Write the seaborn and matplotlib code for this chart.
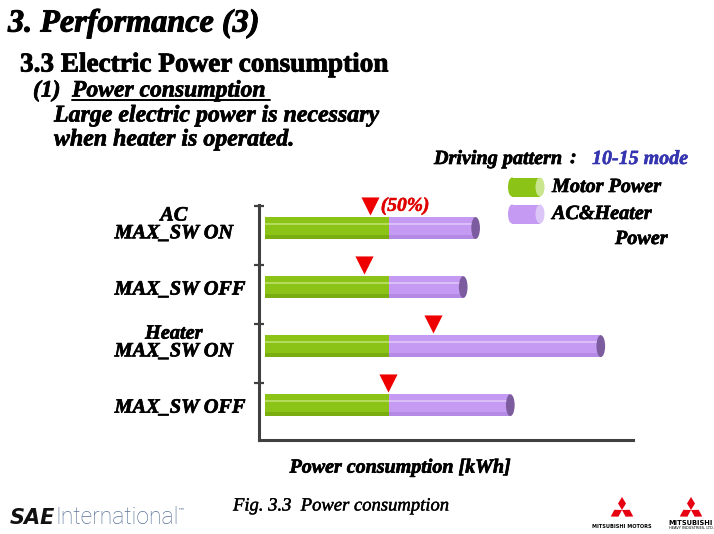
import numpy as np
import pandas as pd
import matplotlib
matplotlib.use("Agg")
import matplotlib.pyplot as plt
from matplotlib import font_manager as fm
from matplotlib import patheffects as pe
from matplotlib import transforms as mtrans
from matplotlib.patches import Ellipse, Rectangle, Polygon
import seaborn as sns

# ---------------- data ----------------
categories = ["AC MAX_SW ON", "AC MAX_SW OFF", "Heater MAX_SW ON", "Heater MAX_SW OFF"]
tick_labels = ["AC\nMAX_SW ON", "MAX_SW OFF", "Heater\nMAX_SW ON", "MAX_SW OFF"]
motor_power = [1.00, 1.00, 1.00, 1.00]
ac_heater_power = [0.70, 0.60, 1.71, 0.98]
series_names = ["Motor Power", "AC&Heater Power"]

GREEN = "#8CC317"
GREEN_LIGHT = "#B5DB5C"
GREEN_CAP = "#C9E68F"
PURPLE = "#C49AF2"
PURPLE_LIGHT = "#D9BEF8"
PURPLE_CAP = "#7C5C9E"
PURPLE_CAP_LEG = "#DCC6F8"

W, H = 714, 534
sns.set_theme(style="white")
plt.rcParams["font.family"] = ["Liberation Serif", "DejaVu Serif"]
plt.rcParams["text.color"] = "black"


def font_file(name):
    for f in fm.fontManager.ttflist:
        if f.fname.endswith(name):
            return f.fname
    return None


_bi = font_file("LiberationSerif-BoldItalic.ttf")
_b = font_file("LiberationSerif-Bold.ttf")
_i = font_file("LiberationSerif-Italic.ttf")


def FP(path, size, fallback_weight="bold", fallback_style="italic"):
    if path:
        return fm.FontProperties(fname=path, size=size)
    return fm.FontProperties(family="serif", weight=fallback_weight,
                             style=fallback_style, size=size)


def BI(size):
    return FP(_bi, size)


def heavy(color="black", lw=0.5):
    return [pe.withStroke(linewidth=lw, foreground=color)]


fig = plt.figure(figsize=(W / 100, H / 100), dpi=100)
fig.patch.set_facecolor("white")


def fx(x):
    return x / W


def fy(y):
    return 1 - y / H


# ---------------- axes ----------------
ax = fig.add_axes([fx(259), fy(440), fx(633) - fx(259), fy(205) - fy(440)])

df = pd.DataFrame({"category": categories,
                   "motor": motor_power,
                   "ac": ac_heater_power})
df["total"] = df["motor"] + df["ac"]

bar_h = 0.37
sns.barplot(data=df, x="total", y="category", orient="h", color=PURPLE,
            width=bar_h, saturation=1, ax=ax, linewidth=0)
sns.barplot(data=df, x="motor", y="category", orient="h", color=GREEN,
            width=bar_h, saturation=1, ax=ax, linewidth=0)

xmax = 2.97
ax.set_xlim(-0.048, xmax)
ax.set_ylim(3.59, -0.39)

for i, (m, t) in enumerate(zip(df["motor"], df["total"])):
    ax.add_patch(Rectangle((0, i - bar_h * 0.22), m, bar_h * 0.08,
                           facecolor=GREEN_LIGHT, edgecolor="none", zorder=3))
    ax.add_patch(Rectangle((m, i - bar_h * 0.22), t - m, bar_h * 0.08,
                           facecolor=PURPLE_LIGHT, edgecolor="none", zorder=3))
    ax.add_patch(Rectangle((0, i + bar_h * 0.32), m, bar_h * 0.18,
                           facecolor="#7AAE10", edgecolor="none", zorder=3))
    ax.add_patch(Rectangle((m, i + bar_h * 0.32), t - m, bar_h * 0.18,
                           facecolor="#B58AE4", edgecolor="none", zorder=3))
    ax.add_patch(Ellipse((t, i), 0.07, bar_h, facecolor=PURPLE_CAP,
                         edgecolor="none", zorder=4))
    ax.scatter([t / 2], [i - 0.37], marker="v", s=170, color="#EE0000",
               zorder=5, linewidths=0, clip_on=False)

ax.text(df["total"][0] / 2 + 0.085, -0.37, "(50%)", color="#E00000",
        fontproperties=BI(14), va="center", ha="left",
        path_effects=heavy("#E00000", 0.4))

for s in ["top", "right"]:
    ax.spines[s].set_visible(False)
for s in ["left", "bottom"]:
    ax.spines[s].set_color("#404040")
    ax.spines[s].set_linewidth(2.2)
ax.set_xticks([])
ax.set_yticks(range(len(categories)))
ax.set_yticklabels(tick_labels, ha="left", multialignment="center",
                   fontproperties=BI(14.6), linespacing=0.85)
ax.tick_params(axis="y", which="major", length=0, pad=104, labelcolor="black")
for lab, txt in zip(ax.get_yticklabels(), tick_labels):
    lab.set_path_effects(heavy())
    if "\n" in txt:
        lab.set_transform(lab.get_transform() +
                          mtrans.ScaledTranslation(0, 5 / 100, fig.dpi_scale_trans))
ax.set_yticks([-0.37, 0.63, 1.63, 2.63], minor=True)
ax.tick_params(axis="y", which="minor", direction="inout", length=7,
               width=1.6, color="#404040", left=True)
ax.set_ylabel("")
ax.set_xlabel("Power consumption [kWh]", fontproperties=BI(14.4),
              color="black", path_effects=heavy())
ax.xaxis.set_label_coords((400 - 259) / (633 - 259), -0.075)
ax.grid(False)

# ---------------- titles ----------------
fig.text(fx(8), fy(24), "3. Performance (3)", fontproperties=BI(23.2),
         va="center", ha="left", path_effects=heavy(lw=0.7))
fig.text(fx(20), fy(65), "3.3 Electric Power consumption",
         fontproperties=FP(_b, 19.6, fallback_style="normal"),
         va="center", ha="left", path_effects=heavy(lw=0.6))
fig.text(fx(33), fy(91), "(1)", fontproperties=BI(17), va="center", ha="left",
         path_effects=heavy())
fig.text(fx(72), fy(91), "Power consumption", fontproperties=BI(17),
         va="center", ha="left", path_effects=heavy())
fig.add_artist(plt.Line2D([fx(72), fx(270)], [fy(100), fy(100)], color="black",
                          linewidth=1.4))
fig.text(fx(54), fy(116), "Large electric power is necessary",
         fontproperties=BI(17.2), va="center", ha="left", path_effects=heavy())
fig.text(fx(54), fy(140), "when heater is operated.",
         fontproperties=BI(17.2), va="center", ha="left", path_effects=heavy())

fig.text(fx(434), fy(159), "Driving pattern", fontproperties=BI(14.5),
         va="center", ha="left", path_effects=heavy())
fig.text(fx(570), fy(158), ":", fontproperties=BI(14.5),
         va="center", ha="left", path_effects=heavy())
fig.text(fx(592), fy(159), "10-15 mode", fontproperties=BI(14.4),
         color="#3535B0", va="center", ha="left",
         path_effects=heavy("#3535B0", 0.4))


# ---------------- legend ----------------
def cyl(x0, x1, yc, h, face, cap):
    fig.add_artist(Rectangle((fx(x0), fy(yc + h / 2)), fx(x1) - fx(x0),
                             fy(yc - h / 2) - fy(yc + h / 2),
                             transform=fig.transFigure, facecolor=face,
                             edgecolor="none"))
    fig.add_artist(Ellipse((fx(x0), fy(yc)), fx(8), fy(0) - fy(h),
                           transform=fig.transFigure, facecolor=face,
                           edgecolor="none"))
    fig.add_artist(Ellipse((fx(x1), fy(yc)), fx(9), fy(0) - fy(h),
                           transform=fig.transFigure, facecolor=cap,
                           edgecolor="none"))


cyl(512, 540, 187, 19, GREEN, GREEN_CAP)
cyl(512, 540, 214, 19, PURPLE, PURPLE_CAP_LEG)
fig.text(fx(552), fy(187), series_names[0], fontproperties=BI(14.5),
         va="center", ha="left", path_effects=heavy())
fig.text(fx(552), fy(214), "AC&Heater", fontproperties=BI(14.5),
         va="center", ha="left", path_effects=heavy())
fig.text(fx(615), fy(239), "Power", fontproperties=BI(14.5),
         va="center", ha="left", path_effects=heavy())

# ---------------- footer ----------------
fig.text(fx(233), fy(506), "Fig. 3.3  Power consumption",
         fontproperties=FP(_i, 13.4, fallback_weight="normal"),
         va="center", ha="left", path_effects=heavy(lw=0.3))
fig.text(fx(10), fy(518), "SAE", fontsize=15, fontweight="heavy",
         fontstyle="italic", family="DejaVu Sans", va="center", ha="left",
         color="#111111")
fig.text(fx(55), fy(518), "International", fontsize=16.5, fontweight="light",
         family="Roboto", va="center", ha="left", color="#5A7398")
fig.text(fx(178), fy(510), "\u2122", fontsize=5, family="DejaVu Sans",
         color="#5A7398", va="center")


def mitsu(cx, cy, L, Wd):
    for ang in (90, 210, 330):
        a = np.deg2rad(ang)
        d = np.array([np.cos(a), -np.sin(a)])
        p = np.array([-d[1], d[0]])
        c = np.array([cx, cy])
        pts = [c, c + L / 2 * d + Wd / 2 * p, c + L * d, c + L / 2 * d - Wd / 2 * p]
        fig.add_artist(Polygon([(fx(q[0]), fy(q[1])) for q in pts],
                               transform=fig.transFigure, facecolor="#E60012",
                               edgecolor="none"))


mitsu(622, 510, 13, 8)
mitsu(691, 510, 13, 8)
fig.text(fx(622), fy(526), "MITSUBISHI MOTORS", fontsize=3.6,
         family="DejaVu Sans", ha="center", va="center", fontweight="bold")
fig.text(fx(691), fy(523), "MITSUBISHI", fontsize=4.8, family="DejaVu Sans",
         ha="center", va="center", fontweight="heavy")
fig.text(fx(691), fy(528), "HEAVY INDUSTRIES, LTD.", fontsize=2.6,
         family="DejaVu Sans", ha="center", va="center")

fig.savefig("out.png", dpi=100, facecolor="white")
